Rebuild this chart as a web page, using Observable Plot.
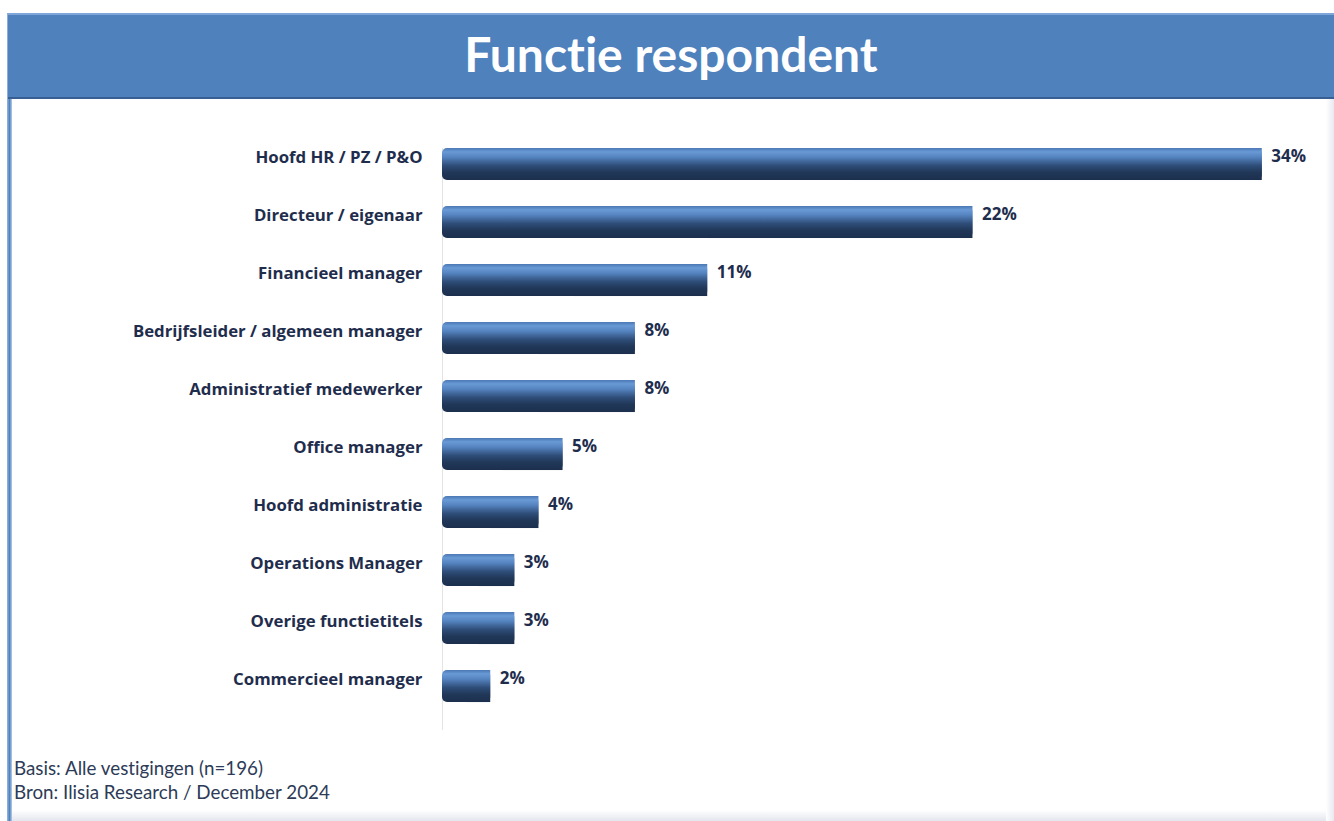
<!DOCTYPE html>
<html><head><meta charset="utf-8">
<script src="https://cdn.jsdelivr.net/npm/d3@7"></script>
<script src="https://cdn.jsdelivr.net/npm/@observablehq/plot@0.6"></script>
<style>
body{margin:0;background:#fff;}
#page{position:relative;width:1334px;height:821px;overflow:hidden;font-family:Lato,sans-serif;background:#fff;font-variant-ligatures:none}
#leftbar{position:absolute;left:7px;top:13px;width:5px;height:808px;background:linear-gradient(to right,#9DB8E0,#4F81BD 50%,#B9CDEA);}
#bottomshade{position:absolute;left:12px;top:810px;width:1322px;height:11px;background:linear-gradient(to bottom,#ffffff,#E4E6EE);}
#rightshade{position:absolute;left:1326px;top:98px;width:8px;height:723px;background:linear-gradient(to right,#ffffff,#E8E9F0);}
#header{position:absolute;left:8px;top:13px;width:1326px;height:86px;background:#4F81BD;border-top:2px solid #7FA6D8;border-bottom:2px solid #385F93;box-sizing:border-box;display:flex;align-items:center;justify-content:center;color:#fff;font-weight:700;font-size:48px;padding-bottom:6px}
#chart{position:absolute;left:0;top:100px}
#footer{position:absolute;left:14px;top:756px;font-size:18.8px;color:#2D3B57;line-height:24px}
</style>
</head>
<body>
<div id="page">
  <div id="leftbar"></div>
  <div id="bottomshade"></div>
  <div id="rightshade"></div>
  <div id="header">Functie respondent</div>
  <div id="chart"></div>
  <div id="footer">Basis: Alle vestigingen (n=196)<br>Bron: Ilisia Research / December 2024</div>
</div>
<script>
const categories = [
  "Hoofd HR / PZ / P&O",
  "Directeur / eigenaar",
  "Financieel manager",
  "Bedrijfsleider / algemeen manager",
  "Administratief medewerker",
  "Office manager",
  "Hoofd administratie",
  "Operations Manager",
  "Overige functietitels",
  "Commercieel manager"
];
const values = [34, 22, 11, 8, 8, 5, 4, 3, 3, 2];
const valueLabels = ["34%", "22%", "11%", "8%", "8%", "5%", "4%", "3%", "3%", "2%"];

const data = categories.map((c, i) => ({cat: c, v: values[i], label: valueLabels[i]}));
const navy = "#1F2D4D";
const labelFont = "'Open Sans', sans-serif";

const chart = Plot.plot({
  width: 1334,
  height: 700,
  marginLeft: 442,
  marginRight: 24,
  marginTop: 48,
  marginBottom: 70,
  x: {domain: [0, 36], axis: null},
  y: {domain: categories, paddingInner: 0.448, paddingOuter: 0.241, align: 0, round: false, label: null},
  style: {fontFamily: labelFont, background: "transparent", color: navy, overflow: "visible"},
  marks: [
    Plot.axisY({tickSize: 0, tickPadding: 20, dy: -7, fontWeight: 700, fontSize: 16.8, fill: navy, label: null}),
    Plot.ruleX([0], {stroke: "#E3E3E3", strokeWidth: 1}),
    Plot.barX(data, {y: "cat", x: "v", fill: "url(#barGrad)", rx: 5}),
    Plot.barX(data, {y: "cat", x1: d => d.v / 2, x2: "v", fill: "url(#barGrad)"}),
    Plot.text(data, {y: "cat", x: "v", text: "label", textAnchor: "start", dx: 9, dy: -8, fontWeight: 700, fontSize: 17, fill: navy})
  ]
});

const svg = d3.select(chart);
const defs = svg.insert("defs", ":first-child");
const grad = defs.append("linearGradient").attr("id", "barGrad")
  .attr("x1", 0).attr("y1", 0).attr("x2", 0).attr("y2", 1);
[["0%", "#4A78B4"], ["12%", "#6A9AD6"], ["28%", "#5584C0"], ["55%", "#2E4D78"], ["75%", "#213859"], ["100%", "#1C2F4D"]]
  .forEach(([o, c]) => grad.append("stop").attr("offset", o).attr("stop-color", c));

document.getElementById("chart").appendChild(chart);
</script>
</body></html>
